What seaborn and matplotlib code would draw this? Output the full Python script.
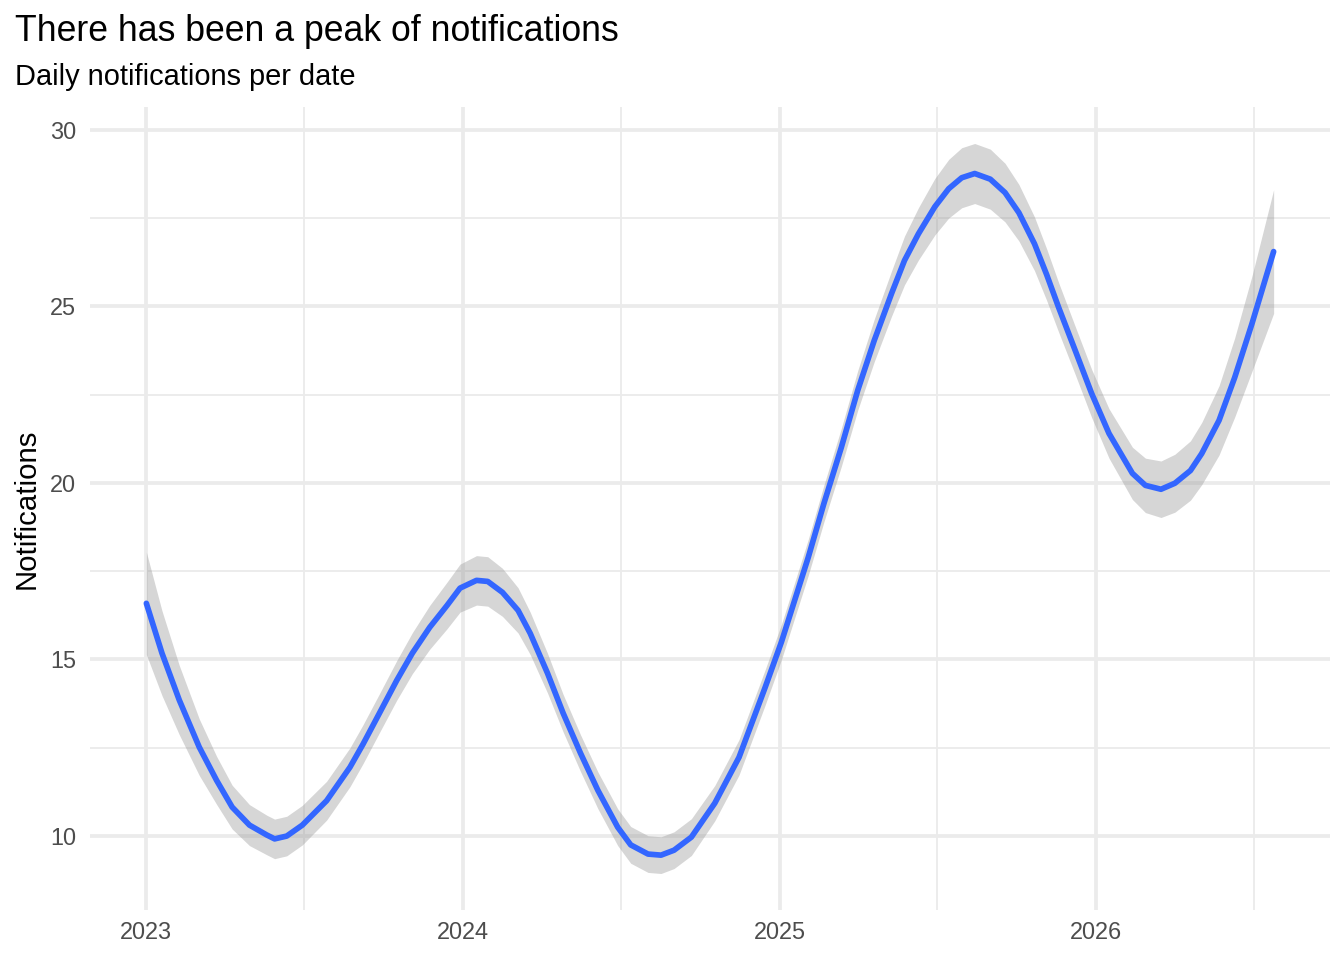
import pandas as pd
import numpy as np
import seaborn as sns
import matplotlib.pyplot as plt
import matplotlib.dates as mdates
from matplotlib.ticker import MultipleLocator

# smoothed notifications per date
dates = ['2023-01-01', '2023-01-19', '2023-02-08', '2023-03-03', '2023-03-23', '2023-04-10',
         '2023-04-30', '2023-05-20', '2023-05-29', '2023-06-12', '2023-06-30', '2023-07-28',
         '2023-08-24', '2023-09-08', '2023-09-27', '2023-10-17', '2023-11-04', '2023-11-24',
         '2023-12-14', '2023-12-29', '2024-01-17',
         '2024-01-30', '2024-02-16', '2024-03-05', '2024-03-19', '2024-04-08', '2024-04-26',
         '2024-05-16', '2024-06-05', '2024-06-28', '2024-07-13', '2024-08-02', '2024-08-17',
         '2024-09-01', '2024-09-21', '2024-10-18', '2024-11-15', '2024-12-15', '2025-01-03',
         '2025-01-14', '2025-02-03', '2025-02-21', '2025-03-13', '2025-04-01', '2025-04-20',
         '2025-05-10', '2025-05-25', '2025-06-10', '2025-06-29',
         '2025-07-15', '2025-07-30', '2025-08-14', '2025-09-01', '2025-09-18', '2025-10-04',
         '2025-10-22', '2025-11-05', '2025-11-19', '2025-12-08', '2025-12-27', '2026-01-16',
         '2026-02-12', '2026-02-27', '2026-03-17', '2026-04-02', '2026-04-20', '2026-05-03',
         '2026-05-23', '2026-06-10', '2026-06-30', '2026-07-25']
fit = [16.59, 15.18, 13.85, 12.52, 11.58, 10.82,
       10.31, 10.03, 9.92, 10.00, 10.31, 11.00,
       11.95, 12.60, 13.48, 14.41, 15.18, 15.91,
       16.53, 17.02, 17.24,
       17.21, 16.90, 16.39, 15.74, 14.61, 13.48,
       12.35, 11.30, 10.25, 9.75, 9.49, 9.46,
       9.60, 9.97, 10.93, 12.23, 14.20, 15.50,
       16.35, 17.90, 19.42, 21.00, 22.62, 24.03,
       25.36, 26.30, 27.05, 27.82,
       28.33, 28.64, 28.76, 28.60, 28.22, 27.65,
       26.77, 25.90, 24.96, 23.75, 22.53, 21.40,
       20.27, 19.93, 19.82, 19.99, 20.35, 20.83,
       21.77, 22.98, 24.51, 26.55]
half_ci = [1.45, 1.20, 0.98, 0.80, 0.68, 0.62,
           0.58, 0.56, 0.56, 0.56, 0.56, 0.55,
           0.55, 0.55, 0.55, 0.56, 0.58, 0.62,
           0.66, 0.68, 0.70,
           0.70, 0.68, 0.64, 0.60, 0.56, 0.53,
           0.52, 0.52, 0.52, 0.52, 0.52, 0.52,
           0.52, 0.52, 0.50, 0.50, 0.50, 0.50,
           0.50, 0.51, 0.52, 0.54, 0.56, 0.60,
           0.64, 0.69, 0.74, 0.80,
           0.83, 0.85, 0.85, 0.85, 0.83, 0.80,
           0.76, 0.73, 0.70, 0.68, 0.68, 0.70,
           0.74, 0.77, 0.80, 0.82, 0.84, 0.88,
           0.98, 1.12, 1.35, 1.75]

df = pd.DataFrame({'date': pd.to_datetime(dates), 'fit': fit, 'half': half_ci})
df['lower'] = df['fit'] - df['half']
df['upper'] = df['fit'] + df['half']

sns.set_style('white')
plt.rcParams['font.family'] = ['Liberation Sans', 'DejaVu Sans']

fig = plt.figure(figsize=(7, 5), dpi=192)
ax = fig.add_axes([90 / 1344, 1 - 910 / 960, (1330 - 90) / 1344, (910 - 107) / 960])

ax.fill_between(df['date'], df['lower'], df['upper'], color='#999999', alpha=0.4, linewidth=0, zorder=2)
sns.lineplot(data=df, x='date', y='fit', color='#3366FF', linewidth=2.13, ax=ax, zorder=3)

# ggplot-like expansion of 5%
x0, x1 = mdates.date2num(df['date'].min()), mdates.date2num(df['date'].max())
xpad = (x1 - x0) * 0.05
ax.set_xlim(x0 - xpad, x1 + xpad)
y0, y1 = df['lower'].min(), df['upper'].max()
ypad = (y1 - y0) * 0.05
ax.set_ylim(y0 - ypad, y1 + ypad)

ax.xaxis.set_major_locator(mdates.YearLocator())
ax.xaxis.set_major_formatter(mdates.DateFormatter('%Y'))
ax.xaxis.set_minor_locator(mdates.MonthLocator(bymonth=7, bymonthday=2))
ax.yaxis.set_major_locator(MultipleLocator(5))
ax.yaxis.set_minor_locator(MultipleLocator(2.5))

ax.grid(which='major', color='#EBEBEB', linewidth=1.42, zorder=0)
ax.grid(which='minor', color='#EBEBEB', linewidth=0.71, zorder=0)
ax.set_axisbelow(True)
sns.despine(ax=ax, left=True, bottom=True)

ax.tick_params(axis='both', which='both', length=0, labelsize=8.8, labelcolor='#4D4D4D')
ax.tick_params(axis='x', pad=4.3)
ax.tick_params(axis='y', pad=5.2)

ax.set_xlabel('')
ax.set_ylabel('Notifications', fontsize=11, color='black', labelpad=3.4)

fig.text(15 / 1344, 1 - 41 / 960, 'There has been a peak of notifications',
         fontsize=13.35, color='black', va='baseline', ha='left')
fig.text(15 / 1344, 1 - 85 / 960, 'Daily notifications per date',
         fontsize=10.9, color='black', va='baseline', ha='left')

fig.savefig('out.png', dpi=192)
